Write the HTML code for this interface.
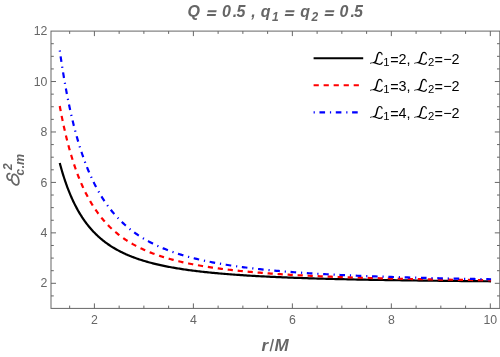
<!DOCTYPE html><html><head><meta charset="utf-8"><title>Center-of-mass energy plot</title><style>html,body{margin:0;padding:0;background:#fff}svg{display:block;will-change:transform}text{font-family:"Liberation Sans",sans-serif}</style></head><body>
<svg width="500" height="357" viewBox="0 0 500 357">
<rect width="500" height="357" fill="#fff"/>
<g fill="none" stroke-width="2.2" stroke-linejoin="round">
<path d="M59.76,163.07 L60.20,164.70 L60.64,166.32 L61.09,167.91 L61.54,169.49 L61.99,171.04 L62.45,172.57 L62.91,174.08 L63.37,175.56 L63.83,177.03 L64.30,178.48 L64.78,179.91 L65.25,181.32 L65.73,182.71 L66.21,184.08 L66.70,185.43 L67.18,186.76 L67.68,188.08 L68.17,189.37 L68.67,190.65 L69.17,191.92 L69.68,193.16 L70.19,194.39 L70.70,195.60 L71.21,196.79 L71.73,197.97 L72.26,199.13 L72.78,200.28 L73.31,201.41 L73.85,202.52 L74.38,203.62 L74.92,204.71 L75.47,205.78 L76.02,206.84 L76.57,207.88 L77.13,208.90 L77.69,209.92 L78.25,210.92 L78.82,211.90 L79.39,212.87 L79.96,213.83 L80.54,214.78 L81.13,215.71 L81.71,216.63 L82.31,217.54 L82.90,218.43 L83.50,219.32 L84.10,220.19 L84.71,221.05 L85.32,221.89 L85.94,222.73 L86.56,223.55 L87.18,224.37 L87.81,225.17 L88.45,225.96 L89.08,226.74 L89.72,227.51 L90.37,228.27 L91.02,229.02 L91.68,229.76 L92.34,230.48 L93.00,231.20 L93.67,231.91 L94.34,232.61 L95.02,233.30 L95.70,233.98 L96.39,234.65 L97.08,235.31 L97.78,235.97 L98.48,236.61 L99.19,237.25 L99.90,237.87 L100.61,238.49 L101.33,239.10 L102.06,239.70 L102.79,240.29 L103.52,240.88 L104.27,241.46 L105.01,242.03 L105.76,242.59 L106.52,243.14 L107.28,243.69 L108.05,244.23 L108.82,244.76 L109.59,245.28 L110.38,245.80 L111.16,246.31 L111.96,246.81 L112.76,247.31 L113.56,247.80 L114.37,248.28 L115.18,248.76 L116.01,249.23 L116.83,249.69 L117.66,250.15 L118.50,250.60 L119.34,251.04 L120.19,251.48 L121.05,251.91 L121.91,252.34 L122.78,252.76 L123.65,253.18 L124.53,253.59 L125.41,253.99 L126.30,254.39 L127.20,254.78 L128.10,255.17 L129.01,255.55 L129.93,255.93 L130.85,256.30 L131.78,256.67 L132.71,257.03 L133.65,257.39 L134.60,257.74 L135.55,258.09 L136.51,258.43 L137.48,258.77 L138.45,259.10 L139.43,259.43 L140.42,259.75 L141.41,260.07 L142.41,260.39 L143.42,260.70 L144.43,261.01 L145.45,261.31 L146.48,261.61 L147.52,261.91 L148.56,262.20 L149.61,262.48 L150.67,262.77 L151.73,263.05 L152.80,263.32 L153.88,263.59 L154.96,263.86 L156.06,264.12 L157.16,264.38 L158.27,264.64 L159.38,264.90 L160.51,265.15 L161.64,265.39 L162.78,265.64 L163.92,265.88 L165.08,266.11 L166.24,266.35 L167.41,266.58 L168.59,266.80 L169.78,267.03 L170.97,267.25 L172.17,267.47 L173.38,267.68 L174.60,267.89 L175.83,268.10 L177.07,268.31 L178.31,268.51 L179.56,268.71 L180.83,268.91 L182.10,269.11 L183.38,269.30 L184.66,269.49 L185.96,269.68 L187.27,269.86 L188.58,270.05 L189.90,270.23 L191.24,270.40 L192.58,270.58 L193.93,270.75 L195.29,270.92 L196.66,271.09 L198.04,271.26 L199.43,271.42 L200.82,271.58 L202.23,271.74 L203.65,271.90 L205.08,272.05 L206.51,272.21 L207.96,272.36 L209.41,272.50 L210.88,272.65 L212.36,272.80 L213.84,272.94 L215.34,273.08 L216.85,273.22 L218.36,273.36 L219.89,273.49 L221.43,273.62 L222.98,273.75 L224.54,273.88 L226.11,274.01 L227.69,274.14 L229.28,274.26 L230.88,274.39 L232.50,274.51 L234.12,274.63 L235.76,274.74 L237.40,274.86 L239.06,274.97 L240.73,275.09 L242.41,275.20 L244.10,275.31 L245.81,275.42 L247.52,275.53 L249.25,275.63 L250.99,275.73 L252.74,275.84 L254.50,275.94 L256.28,276.04 L258.07,276.14 L259.86,276.23 L261.68,276.33 L263.50,276.43 L265.34,276.52 L267.19,276.61 L269.05,276.70 L270.92,276.79 L272.81,276.88 L274.71,276.97 L276.63,277.05 L278.55,277.14 L280.49,277.22 L282.45,277.30 L284.41,277.39 L286.39,277.47 L288.39,277.54 L290.39,277.62 L292.42,277.70 L294.45,277.78 L296.50,277.85 L298.56,277.93 L300.64,278.00 L302.73,278.07 L304.84,278.14 L306.96,278.21 L309.09,278.28 L311.24,278.35 L313.40,278.42 L315.58,278.48 L317.78,278.55 L319.99,278.61 L322.21,278.68 L324.45,278.74 L326.70,278.80 L328.97,278.86 L331.26,278.92 L333.56,278.98 L335.88,279.04 L338.21,279.10 L340.56,279.15 L342.92,279.21 L345.30,279.27 L347.70,279.32 L350.12,279.38 L352.55,279.43 L354.99,279.48 L357.46,279.53 L359.94,279.58 L362.43,279.63 L364.95,279.68 L367.48,279.73 L370.03,279.78 L372.60,279.83 L375.18,279.88 L377.78,279.92 L380.40,279.97 L383.04,280.01 L385.70,280.06 L388.37,280.10 L391.06,280.15 L393.77,280.19 L396.50,280.23 L399.25,280.27 L402.02,280.31 L404.81,280.35 L407.61,280.39 L410.43,280.43 L413.28,280.47 L416.14,280.51 L419.02,280.55 L421.93,280.59 L424.85,280.62 L427.79,280.66 L430.75,280.70 L433.74,280.73 L436.74,280.77 L439.76,280.80 L442.81,280.83 L445.87,280.87 L448.96,280.90 L452.07,280.93 L455.20,280.97 L458.35,281.00 L461.52,281.03 L464.71,281.06 L467.93,281.09 L471.17,281.12 L474.43,281.15 L477.71,281.18 L481.01,281.21 L484.34,281.24 L487.69,281.26 L491.06,281.29" stroke="#000"/>
<path d="M59.76,106.04 L60.20,108.43 L60.64,110.78 L61.09,113.11 L61.54,115.40 L61.99,117.66 L62.45,119.89 L62.91,122.10 L63.37,124.27 L63.83,126.41 L64.30,128.53 L64.78,130.61 L65.25,132.67 L65.73,134.70 L66.21,136.70 L66.70,138.68 L67.18,140.63 L67.68,142.55 L68.17,144.45 L68.67,146.32 L69.17,148.17 L69.68,149.99 L70.19,151.79 L70.70,153.56 L71.21,155.31 L71.73,157.04 L72.26,158.74 L72.78,160.42 L73.31,162.08 L73.85,163.72 L74.38,165.33 L74.92,166.92 L75.47,168.49 L76.02,170.04 L76.57,171.57 L77.13,173.07 L77.69,174.56 L78.25,176.03 L78.82,177.48 L79.39,178.90 L79.96,180.31 L80.54,181.70 L81.13,183.07 L81.71,184.43 L82.31,185.76 L82.90,187.08 L83.50,188.38 L84.10,189.66 L84.71,190.92 L85.32,192.17 L85.94,193.40 L86.56,194.61 L87.18,195.81 L87.81,196.99 L88.45,198.16 L89.08,199.31 L89.72,200.44 L90.37,201.56 L91.02,202.66 L91.68,203.75 L92.34,204.83 L93.00,205.88 L93.67,206.93 L94.34,207.96 L95.02,208.98 L95.70,209.98 L96.39,210.97 L97.08,211.95 L97.78,212.91 L98.48,213.86 L99.19,214.80 L99.90,215.73 L100.61,216.64 L101.33,217.54 L102.06,218.43 L102.79,219.31 L103.52,220.17 L104.27,221.02 L105.01,221.86 L105.76,222.69 L106.52,223.51 L107.28,224.32 L108.05,225.12 L108.82,225.90 L109.59,226.68 L110.38,227.44 L111.16,228.20 L111.96,228.94 L112.76,229.68 L113.56,230.40 L114.37,231.12 L115.18,231.82 L116.01,232.52 L116.83,233.21 L117.66,233.88 L118.50,234.55 L119.34,235.21 L120.19,235.86 L121.05,236.50 L121.91,237.13 L122.78,237.76 L123.65,238.37 L124.53,238.98 L125.41,239.58 L126.30,240.17 L127.20,240.75 L128.10,241.33 L129.01,241.90 L129.93,242.46 L130.85,243.01 L131.78,243.55 L132.71,244.09 L133.65,244.62 L134.60,245.14 L135.55,245.66 L136.51,246.17 L137.48,246.67 L138.45,247.17 L139.43,247.66 L140.42,248.14 L141.41,248.61 L142.41,249.08 L143.42,249.54 L144.43,250.00 L145.45,250.45 L146.48,250.90 L147.52,251.33 L148.56,251.77 L149.61,252.19 L150.67,252.61 L151.73,253.03 L152.80,253.44 L153.88,253.84 L154.96,254.24 L156.06,254.63 L157.16,255.02 L158.27,255.40 L159.38,255.78 L160.51,256.15 L161.64,256.52 L162.78,256.88 L163.92,257.24 L165.08,257.59 L166.24,257.94 L167.41,258.28 L168.59,258.62 L169.78,258.96 L170.97,259.29 L172.17,259.61 L173.38,259.93 L174.60,260.25 L175.83,260.56 L177.07,260.87 L178.31,261.17 L179.56,261.47 L180.83,261.77 L182.10,262.06 L183.38,262.34 L184.66,262.63 L185.96,262.91 L187.27,263.18 L188.58,263.46 L189.90,263.72 L191.24,263.99 L192.58,264.25 L193.93,264.51 L195.29,264.76 L196.66,265.01 L198.04,265.26 L199.43,265.51 L200.82,265.75 L202.23,265.98 L203.65,266.22 L205.08,266.45 L206.51,266.68 L207.96,266.90 L209.41,267.12 L210.88,267.34 L212.36,267.56 L213.84,267.77 L215.34,267.98 L216.85,268.19 L218.36,268.40 L219.89,268.60 L221.43,268.80 L222.98,268.99 L224.54,269.19 L226.11,269.38 L227.69,269.57 L229.28,269.75 L230.88,269.93 L232.50,270.12 L234.12,270.29 L235.76,270.47 L237.40,270.64 L239.06,270.82 L240.73,270.98 L242.41,271.15 L244.10,271.32 L245.81,271.48 L247.52,271.64 L249.25,271.80 L250.99,271.95 L252.74,272.11 L254.50,272.26 L256.28,272.41 L258.07,272.55 L259.86,272.70 L261.68,272.84 L263.50,272.98 L265.34,273.12 L267.19,273.26 L269.05,273.40 L270.92,273.53 L272.81,273.66 L274.71,273.80 L276.63,273.92 L278.55,274.05 L280.49,274.18 L282.45,274.30 L284.41,274.42 L286.39,274.54 L288.39,274.66 L290.39,274.78 L292.42,274.89 L294.45,275.01 L296.50,275.12 L298.56,275.23 L300.64,275.34 L302.73,275.45 L304.84,275.55 L306.96,275.66 L309.09,275.76 L311.24,275.86 L313.40,275.96 L315.58,276.06 L317.78,276.16 L319.99,276.26 L322.21,276.35 L324.45,276.45 L326.70,276.54 L328.97,276.63 L331.26,276.72 L333.56,276.81 L335.88,276.90 L338.21,276.99 L340.56,277.07 L342.92,277.16 L345.30,277.24 L347.70,277.32 L350.12,277.40 L352.55,277.48 L354.99,277.56 L357.46,277.64 L359.94,277.72 L362.43,277.79 L364.95,277.87 L367.48,277.94 L370.03,278.01 L372.60,278.08 L375.18,278.15 L377.78,278.22 L380.40,278.29 L383.04,278.36 L385.70,278.43 L388.37,278.49 L391.06,278.56 L393.77,278.62 L396.50,278.69 L399.25,278.75 L402.02,278.81 L404.81,278.87 L407.61,278.93 L410.43,278.99 L413.28,279.05 L416.14,279.11 L419.02,279.16 L421.93,279.22 L424.85,279.28 L427.79,279.33 L430.75,279.38 L433.74,279.44 L436.74,279.49 L439.76,279.54 L442.81,279.59 L445.87,279.64 L448.96,279.69 L452.07,279.74 L455.20,279.79 L458.35,279.84 L461.52,279.88 L464.71,279.93 L467.93,279.97 L471.17,280.02 L474.43,280.06 L477.71,280.11 L481.01,280.15 L484.34,280.19 L487.69,280.24 L491.06,280.28" stroke="#f00" stroke-dasharray="5.2,4.82"/>
<path d="M59.76,50.48 L60.20,53.58 L60.64,56.64 L61.09,59.67 L61.54,62.65 L61.99,65.59 L62.45,68.50 L62.91,71.36 L63.37,74.19 L63.83,76.98 L64.30,79.74 L64.78,82.45 L65.25,85.13 L65.73,87.78 L66.21,90.39 L66.70,92.97 L67.18,95.51 L67.68,98.02 L68.17,100.49 L68.67,102.93 L69.17,105.34 L69.68,107.72 L70.19,110.07 L70.70,112.38 L71.21,114.67 L71.73,116.92 L72.26,119.15 L72.78,121.34 L73.31,123.51 L73.85,125.65 L74.38,127.75 L74.92,129.83 L75.47,131.89 L76.02,133.91 L76.57,135.91 L77.13,137.88 L77.69,139.83 L78.25,141.75 L78.82,143.65 L79.39,145.52 L79.96,147.36 L80.54,149.18 L81.13,150.98 L81.71,152.75 L82.31,154.50 L82.90,156.22 L83.50,157.92 L84.10,159.60 L84.71,161.26 L85.32,162.90 L85.94,164.51 L86.56,166.10 L87.18,167.67 L87.81,169.22 L88.45,170.75 L89.08,172.26 L89.72,173.75 L90.37,175.22 L91.02,176.67 L91.68,178.10 L92.34,179.51 L93.00,180.90 L93.67,182.27 L94.34,183.63 L95.02,184.97 L95.70,186.28 L96.39,187.59 L97.08,188.87 L97.78,190.14 L98.48,191.39 L99.19,192.62 L99.90,193.84 L100.61,195.04 L101.33,196.22 L102.06,197.39 L102.79,198.55 L103.52,199.68 L104.27,200.81 L105.01,201.92 L105.76,203.01 L106.52,204.09 L107.28,205.15 L108.05,206.20 L108.82,207.24 L109.59,208.26 L110.38,209.27 L111.16,210.26 L111.96,211.24 L112.76,212.21 L113.56,213.17 L114.37,214.11 L115.18,215.04 L116.01,215.96 L116.83,216.86 L117.66,217.75 L118.50,218.64 L119.34,219.51 L120.19,220.36 L121.05,221.21 L121.91,222.04 L122.78,222.87 L123.65,223.68 L124.53,224.48 L125.41,225.27 L126.30,226.05 L127.20,226.82 L128.10,227.58 L129.01,228.33 L129.93,229.07 L130.85,229.80 L131.78,230.52 L132.71,231.23 L133.65,231.93 L134.60,232.63 L135.55,233.31 L136.51,233.98 L137.48,234.64 L138.45,235.30 L139.43,235.95 L140.42,236.58 L141.41,237.21 L142.41,237.83 L143.42,238.44 L144.43,239.05 L145.45,239.64 L146.48,240.23 L147.52,240.81 L148.56,241.38 L149.61,241.95 L150.67,242.51 L151.73,243.06 L152.80,243.60 L153.88,244.13 L154.96,244.66 L156.06,245.18 L157.16,245.69 L158.27,246.20 L159.38,246.70 L160.51,247.19 L161.64,247.68 L162.78,248.16 L163.92,248.63 L165.08,249.10 L166.24,249.56 L167.41,250.02 L168.59,250.47 L169.78,250.91 L170.97,251.34 L172.17,251.78 L173.38,252.20 L174.60,252.62 L175.83,253.03 L177.07,253.44 L178.31,253.84 L179.56,254.24 L180.83,254.63 L182.10,255.02 L183.38,255.40 L184.66,255.78 L185.96,256.15 L187.27,256.52 L188.58,256.88 L189.90,257.23 L191.24,257.58 L192.58,257.93 L193.93,258.27 L195.29,258.61 L196.66,258.94 L198.04,259.27 L199.43,259.60 L200.82,259.92 L202.23,260.23 L203.65,260.54 L205.08,260.85 L206.51,261.15 L207.96,261.45 L209.41,261.75 L210.88,262.04 L212.36,262.33 L213.84,262.61 L215.34,262.89 L216.85,263.16 L218.36,263.43 L219.89,263.70 L221.43,263.97 L222.98,264.23 L224.54,264.49 L226.11,264.74 L227.69,264.99 L229.28,265.24 L230.88,265.48 L232.50,265.72 L234.12,265.96 L235.76,266.19 L237.40,266.42 L239.06,266.65 L240.73,266.88 L242.41,267.10 L244.10,267.32 L245.81,267.53 L247.52,267.75 L249.25,267.96 L250.99,268.16 L252.74,268.37 L254.50,268.57 L256.28,268.77 L258.07,268.97 L259.86,269.16 L261.68,269.35 L263.50,269.54 L265.34,269.72 L267.19,269.91 L269.05,270.09 L270.92,270.27 L272.81,270.44 L274.71,270.62 L276.63,270.79 L278.55,270.96 L280.49,271.12 L282.45,271.29 L284.41,271.45 L286.39,271.61 L288.39,271.77 L290.39,271.93 L292.42,272.08 L294.45,272.23 L296.50,272.38 L298.56,272.53 L300.64,272.67 L302.73,272.82 L304.84,272.96 L306.96,273.10 L309.09,273.24 L311.24,273.37 L313.40,273.51 L315.58,273.64 L317.78,273.77 L319.99,273.90 L322.21,274.03 L324.45,274.15 L326.70,274.27 L328.97,274.40 L331.26,274.52 L333.56,274.64 L335.88,274.75 L338.21,274.87 L340.56,274.98 L342.92,275.10 L345.30,275.21 L347.70,275.32 L350.12,275.42 L352.55,275.53 L354.99,275.64 L357.46,275.74 L359.94,275.84 L362.43,275.94 L364.95,276.04 L367.48,276.14 L370.03,276.24 L372.60,276.33 L375.18,276.43 L377.78,276.52 L380.40,276.61 L383.04,276.70 L385.70,276.79 L388.37,276.88 L391.06,276.97 L393.77,277.05 L396.50,277.14 L399.25,277.22 L402.02,277.30 L404.81,277.38 L407.61,277.46 L410.43,277.54 L413.28,277.62 L416.14,277.70 L419.02,277.77 L421.93,277.85 L424.85,277.92 L427.79,277.99 L430.75,278.07 L433.74,278.14 L436.74,278.21 L439.76,278.27 L442.81,278.34 L445.87,278.41 L448.96,278.48 L452.07,278.54 L455.20,278.61 L458.35,278.67 L461.52,278.73 L464.71,278.79 L467.93,278.85 L471.17,278.91 L474.43,278.97 L477.71,279.03 L481.01,279.09 L484.34,279.15 L487.69,279.20 L491.06,279.26" stroke="#00f" stroke-dasharray="1.2,4.67,5.6,4.85"/>
</g>
<path d="M69.66,308.4v-2.8M69.66,31.1v2.8M94.40,308.4v-5M94.40,31.1v5M119.15,308.4v-2.8M119.15,31.1v2.8M143.89,308.4v-2.8M143.89,31.1v2.8M168.63,308.4v-2.8M168.63,31.1v2.8M193.38,308.4v-5M193.38,31.1v5M218.12,308.4v-2.8M218.12,31.1v2.8M242.87,308.4v-2.8M242.87,31.1v2.8M267.62,308.4v-2.8M267.62,31.1v2.8M292.36,308.4v-5M292.36,31.1v5M317.11,308.4v-2.8M317.11,31.1v2.8M341.85,308.4v-2.8M341.85,31.1v2.8M366.60,308.4v-2.8M366.60,31.1v2.8M391.34,308.4v-5M391.34,31.1v5M416.09,308.4v-2.8M416.09,31.1v2.8M440.83,308.4v-2.8M440.83,31.1v2.8M465.58,308.4v-2.8M465.58,31.1v2.8M490.32,308.4v-5M490.32,31.1v5M51.0,295.91h2.8M499.8,295.91h-2.8M51.0,283.30h5M499.8,283.30h-5M51.0,270.69h2.8M499.8,270.69h-2.8M51.0,258.08h2.8M499.8,258.08h-2.8M51.0,245.47h2.8M499.8,245.47h-2.8M51.0,232.86h5M499.8,232.86h-5M51.0,220.25h2.8M499.8,220.25h-2.8M51.0,207.64h2.8M499.8,207.64h-2.8M51.0,195.03h2.8M499.8,195.03h-2.8M51.0,182.42h5M499.8,182.42h-5M51.0,169.81h2.8M499.8,169.81h-2.8M51.0,157.20h2.8M499.8,157.20h-2.8M51.0,144.59h2.8M499.8,144.59h-2.8M51.0,131.98h5M499.8,131.98h-5M51.0,119.37h2.8M499.8,119.37h-2.8M51.0,106.76h2.8M499.8,106.76h-2.8M51.0,94.15h2.8M499.8,94.15h-2.8M51.0,81.54h5M499.8,81.54h-5M51.0,68.93h2.8M499.8,68.93h-2.8M51.0,56.32h2.8M499.8,56.32h-2.8M51.0,43.71h2.8M499.8,43.71h-2.8" stroke="#666666" stroke-width="1" fill="none"/>
<rect x="51.0" y="31.1" width="448.8" height="277.29999999999995" fill="none" stroke="#666666" stroke-width="1"/>
<g fill="#666666" font-size="12.3">
<text x="94.4" y="324.2" text-anchor="middle">2</text>
<text x="193.4" y="324.2" text-anchor="middle">4</text>
<text x="292.4" y="324.2" text-anchor="middle">6</text>
<text x="391.3" y="324.2" text-anchor="middle">8</text>
<text x="490.3" y="324.2" text-anchor="middle">10</text>
<text x="47.4" y="287.4" text-anchor="end">2</text>
<text x="47.4" y="237.0" text-anchor="end">4</text>
<text x="47.4" y="186.5" text-anchor="end">6</text>
<text x="47.4" y="136.1" text-anchor="end">8</text>
<text x="47.4" y="85.6" text-anchor="end">10</text>
<text x="47.4" y="35.2" text-anchor="end">12</text>
</g>
<text x="187.42" y="17.3" font-size="16" font-weight="bold" font-style="italic" fill="#666666">Q</text>
<path d="M207.90,10.200000000000001h8.8l-0.4,2h-8.8zM207.20,14.0h8.8l-0.4,2h-8.8z" fill="#666666"/>
<text x="221.93" y="17.3" font-size="16" font-weight="bold" font-style="italic" fill="#666666">0</text>
<text x="232.85" y="17.3" font-size="16" font-weight="bold" font-style="italic" fill="#666666">.</text>
<text x="236.44" y="17.3" font-size="16" font-weight="bold" font-style="italic" fill="#666666">5</text>
<text x="251.16" y="17.3" font-size="16" font-weight="bold" font-style="italic" fill="#666666">,</text>
<text x="260.74" y="17.3" font-size="16" font-weight="bold" font-style="italic" fill="#666666">q</text>
<text x="272.11" y="20.900000000000002" font-size="12" font-weight="bold" font-style="italic" fill="#666666">1</text>
<path d="M285.80,10.200000000000001h8.8l-0.4,2h-8.8zM285.10,14.0h8.8l-0.4,2h-8.8z" fill="#666666"/>
<text x="300.14" y="17.3" font-size="16" font-weight="bold" font-style="italic" fill="#666666">q</text>
<text x="311.39" y="20.900000000000002" font-size="12" font-weight="bold" font-style="italic" fill="#666666">2</text>
<path d="M325.60,10.200000000000001h8.8l-0.4,2h-8.8zM324.90,14.0h8.8l-0.4,2h-8.8z" fill="#666666"/>
<text x="339.53" y="17.3" font-size="16" font-weight="bold" font-style="italic" fill="#666666">0</text>
<text x="350.45" y="17.3" font-size="16" font-weight="bold" font-style="italic" fill="#666666">.</text>
<text x="354.04" y="17.3" font-size="16" font-weight="bold" font-style="italic" fill="#666666">5</text>
<text x="261.61" y="350.6" font-size="17" font-weight="bold" font-style="italic" fill="#666666">r</text>
<text x="274.59" y="350.6" font-size="17" font-weight="bold" font-style="italic" fill="#666666">M</text>
<path d="M270.3,351.20000000000005L273.3,339.0" stroke="#666666" stroke-width="1.5" fill="none"/>
<path d="M9.73,173.60 C8.27,173.15 6.76,174.72 7.04,176.68 C7.32,178.92 9.00,180.32 10.40,180.04 C11.08,179.93 11.52,179.48 11.64,178.92 M11.52,179.20 C11.97,181.73 13.48,184.25 15.73,184.81 C17.97,185.37 19.09,183.41 18.81,180.61 C18.53,177.80 16.68,174.83 14.44,174.33 C12.92,174.05 11.97,175.28 11.97,177.24" fill="none" stroke="#666666" stroke-width="1.75" stroke-linecap="round" stroke-linejoin="round"/>
<text transform="translate(11.6,170.0) rotate(-90)" font-size="12" font-weight="bold" font-style="italic" fill="#666666">2</text>
<text transform="translate(24.0,175.4) rotate(-90)" font-size="12" font-weight="bold" font-style="italic" fill="#666666">c</text>
<text transform="translate(24.0,168.3) rotate(-90)" font-size="12" font-weight="bold" font-style="italic" fill="#666666">.</text>
<text transform="translate(24.0,165.0) rotate(-90)" font-size="12.5" font-weight="bold" font-style="italic" fill="#666666">m</text>
<path d="M313.6,58.3H363.2" stroke="#000" stroke-width="2.1" fill="none"/>
<g fill="#000" font-size="14.4">
<g transform="translate(370.4,52.4)" fill="none" stroke="#000" stroke-linecap="round" stroke-linejoin="round"><path d="M11.61,2.21 C11.84,0.92 10.72,-0.03 9.37,-0.03 C8.36,-0.03 7.69,0.75 7.24,2.04" stroke-width="1.05"/><path d="M7.24,2.04 C6.80,3.44 6.40,5.68 5.84,7.64 C5.56,8.77 5.12,9.49 4.44,9.83" stroke-width="1.45"/><path d="M4.44,9.83 C3.21,10.50 1.64,10.05 -0.04,10.84" stroke-width="0.8"/><path d="M3.21,10.17 C5.00,10.17 6.57,11.51 8.64,11.85 C10.33,12.07 11.50,11.40 11.84,10.05" stroke-width="1.2"/></g>
<g transform="translate(414.6,52.4)" fill="none" stroke="#000" stroke-linecap="round" stroke-linejoin="round"><path d="M11.61,2.21 C11.84,0.92 10.72,-0.03 9.37,-0.03 C8.36,-0.03 7.69,0.75 7.24,2.04" stroke-width="1.05"/><path d="M7.24,2.04 C6.80,3.44 6.40,5.68 5.84,7.64 C5.56,8.77 5.12,9.49 4.44,9.83" stroke-width="1.45"/><path d="M4.44,9.83 C3.21,10.50 1.64,10.05 -0.04,10.84" stroke-width="0.8"/><path d="M3.21,10.17 C5.00,10.17 6.57,11.51 8.64,11.85 C10.33,12.07 11.50,11.40 11.84,10.05" stroke-width="1.2"/></g>
<text x="383.3" y="66.10000000000001" font-size="11.3">1</text>
<text x="390.2" y="65.10000000000001">=</text><text x="398.6" y="63.7">2,</text>
<text x="428.0" y="66.10000000000001" font-size="11.3">2</text>
<text x="434.5" y="65.10000000000001">=</text><text x="443.2" y="64.0">−</text><text x="451.4" y="63.7">2</text>
</g>
<path d="M313.6,85.3H362.0" stroke="#f00" stroke-width="2.1" fill="none" stroke-dasharray="5.2,4.82"/>
<g fill="#000" font-size="14.4">
<g transform="translate(370.4,79.4)" fill="none" stroke="#000" stroke-linecap="round" stroke-linejoin="round"><path d="M11.61,2.21 C11.84,0.92 10.72,-0.03 9.37,-0.03 C8.36,-0.03 7.69,0.75 7.24,2.04" stroke-width="1.05"/><path d="M7.24,2.04 C6.80,3.44 6.40,5.68 5.84,7.64 C5.56,8.77 5.12,9.49 4.44,9.83" stroke-width="1.45"/><path d="M4.44,9.83 C3.21,10.50 1.64,10.05 -0.04,10.84" stroke-width="0.8"/><path d="M3.21,10.17 C5.00,10.17 6.57,11.51 8.64,11.85 C10.33,12.07 11.50,11.40 11.84,10.05" stroke-width="1.2"/></g>
<g transform="translate(414.6,79.4)" fill="none" stroke="#000" stroke-linecap="round" stroke-linejoin="round"><path d="M11.61,2.21 C11.84,0.92 10.72,-0.03 9.37,-0.03 C8.36,-0.03 7.69,0.75 7.24,2.04" stroke-width="1.05"/><path d="M7.24,2.04 C6.80,3.44 6.40,5.68 5.84,7.64 C5.56,8.77 5.12,9.49 4.44,9.83" stroke-width="1.45"/><path d="M4.44,9.83 C3.21,10.50 1.64,10.05 -0.04,10.84" stroke-width="0.8"/><path d="M3.21,10.17 C5.00,10.17 6.57,11.51 8.64,11.85 C10.33,12.07 11.50,11.40 11.84,10.05" stroke-width="1.2"/></g>
<text x="383.3" y="93.10000000000001" font-size="11.3">1</text>
<text x="390.2" y="92.10000000000001">=</text><text x="398.6" y="90.7">3,</text>
<text x="428.0" y="93.10000000000001" font-size="11.3">2</text>
<text x="434.5" y="92.10000000000001">=</text><text x="443.2" y="91.0">−</text><text x="451.4" y="90.7">2</text>
</g>
<path d="M313.6,112.4H362.0" stroke="#00f" stroke-width="2.1" fill="none" stroke-dasharray="1.2,4.67,5.6,4.85"/>
<g fill="#000" font-size="14.4">
<g transform="translate(370.4,106.5)" fill="none" stroke="#000" stroke-linecap="round" stroke-linejoin="round"><path d="M11.61,2.21 C11.84,0.92 10.72,-0.03 9.37,-0.03 C8.36,-0.03 7.69,0.75 7.24,2.04" stroke-width="1.05"/><path d="M7.24,2.04 C6.80,3.44 6.40,5.68 5.84,7.64 C5.56,8.77 5.12,9.49 4.44,9.83" stroke-width="1.45"/><path d="M4.44,9.83 C3.21,10.50 1.64,10.05 -0.04,10.84" stroke-width="0.8"/><path d="M3.21,10.17 C5.00,10.17 6.57,11.51 8.64,11.85 C10.33,12.07 11.50,11.40 11.84,10.05" stroke-width="1.2"/></g>
<g transform="translate(414.6,106.5)" fill="none" stroke="#000" stroke-linecap="round" stroke-linejoin="round"><path d="M11.61,2.21 C11.84,0.92 10.72,-0.03 9.37,-0.03 C8.36,-0.03 7.69,0.75 7.24,2.04" stroke-width="1.05"/><path d="M7.24,2.04 C6.80,3.44 6.40,5.68 5.84,7.64 C5.56,8.77 5.12,9.49 4.44,9.83" stroke-width="1.45"/><path d="M4.44,9.83 C3.21,10.50 1.64,10.05 -0.04,10.84" stroke-width="0.8"/><path d="M3.21,10.17 C5.00,10.17 6.57,11.51 8.64,11.85 C10.33,12.07 11.50,11.40 11.84,10.05" stroke-width="1.2"/></g>
<text x="383.3" y="120.2" font-size="11.3">1</text>
<text x="390.2" y="119.2">=</text><text x="398.6" y="117.8">4,</text>
<text x="428.0" y="120.2" font-size="11.3">2</text>
<text x="434.5" y="119.2">=</text><text x="443.2" y="118.1">−</text><text x="451.4" y="117.8">2</text>
</g>
</svg></body></html>
